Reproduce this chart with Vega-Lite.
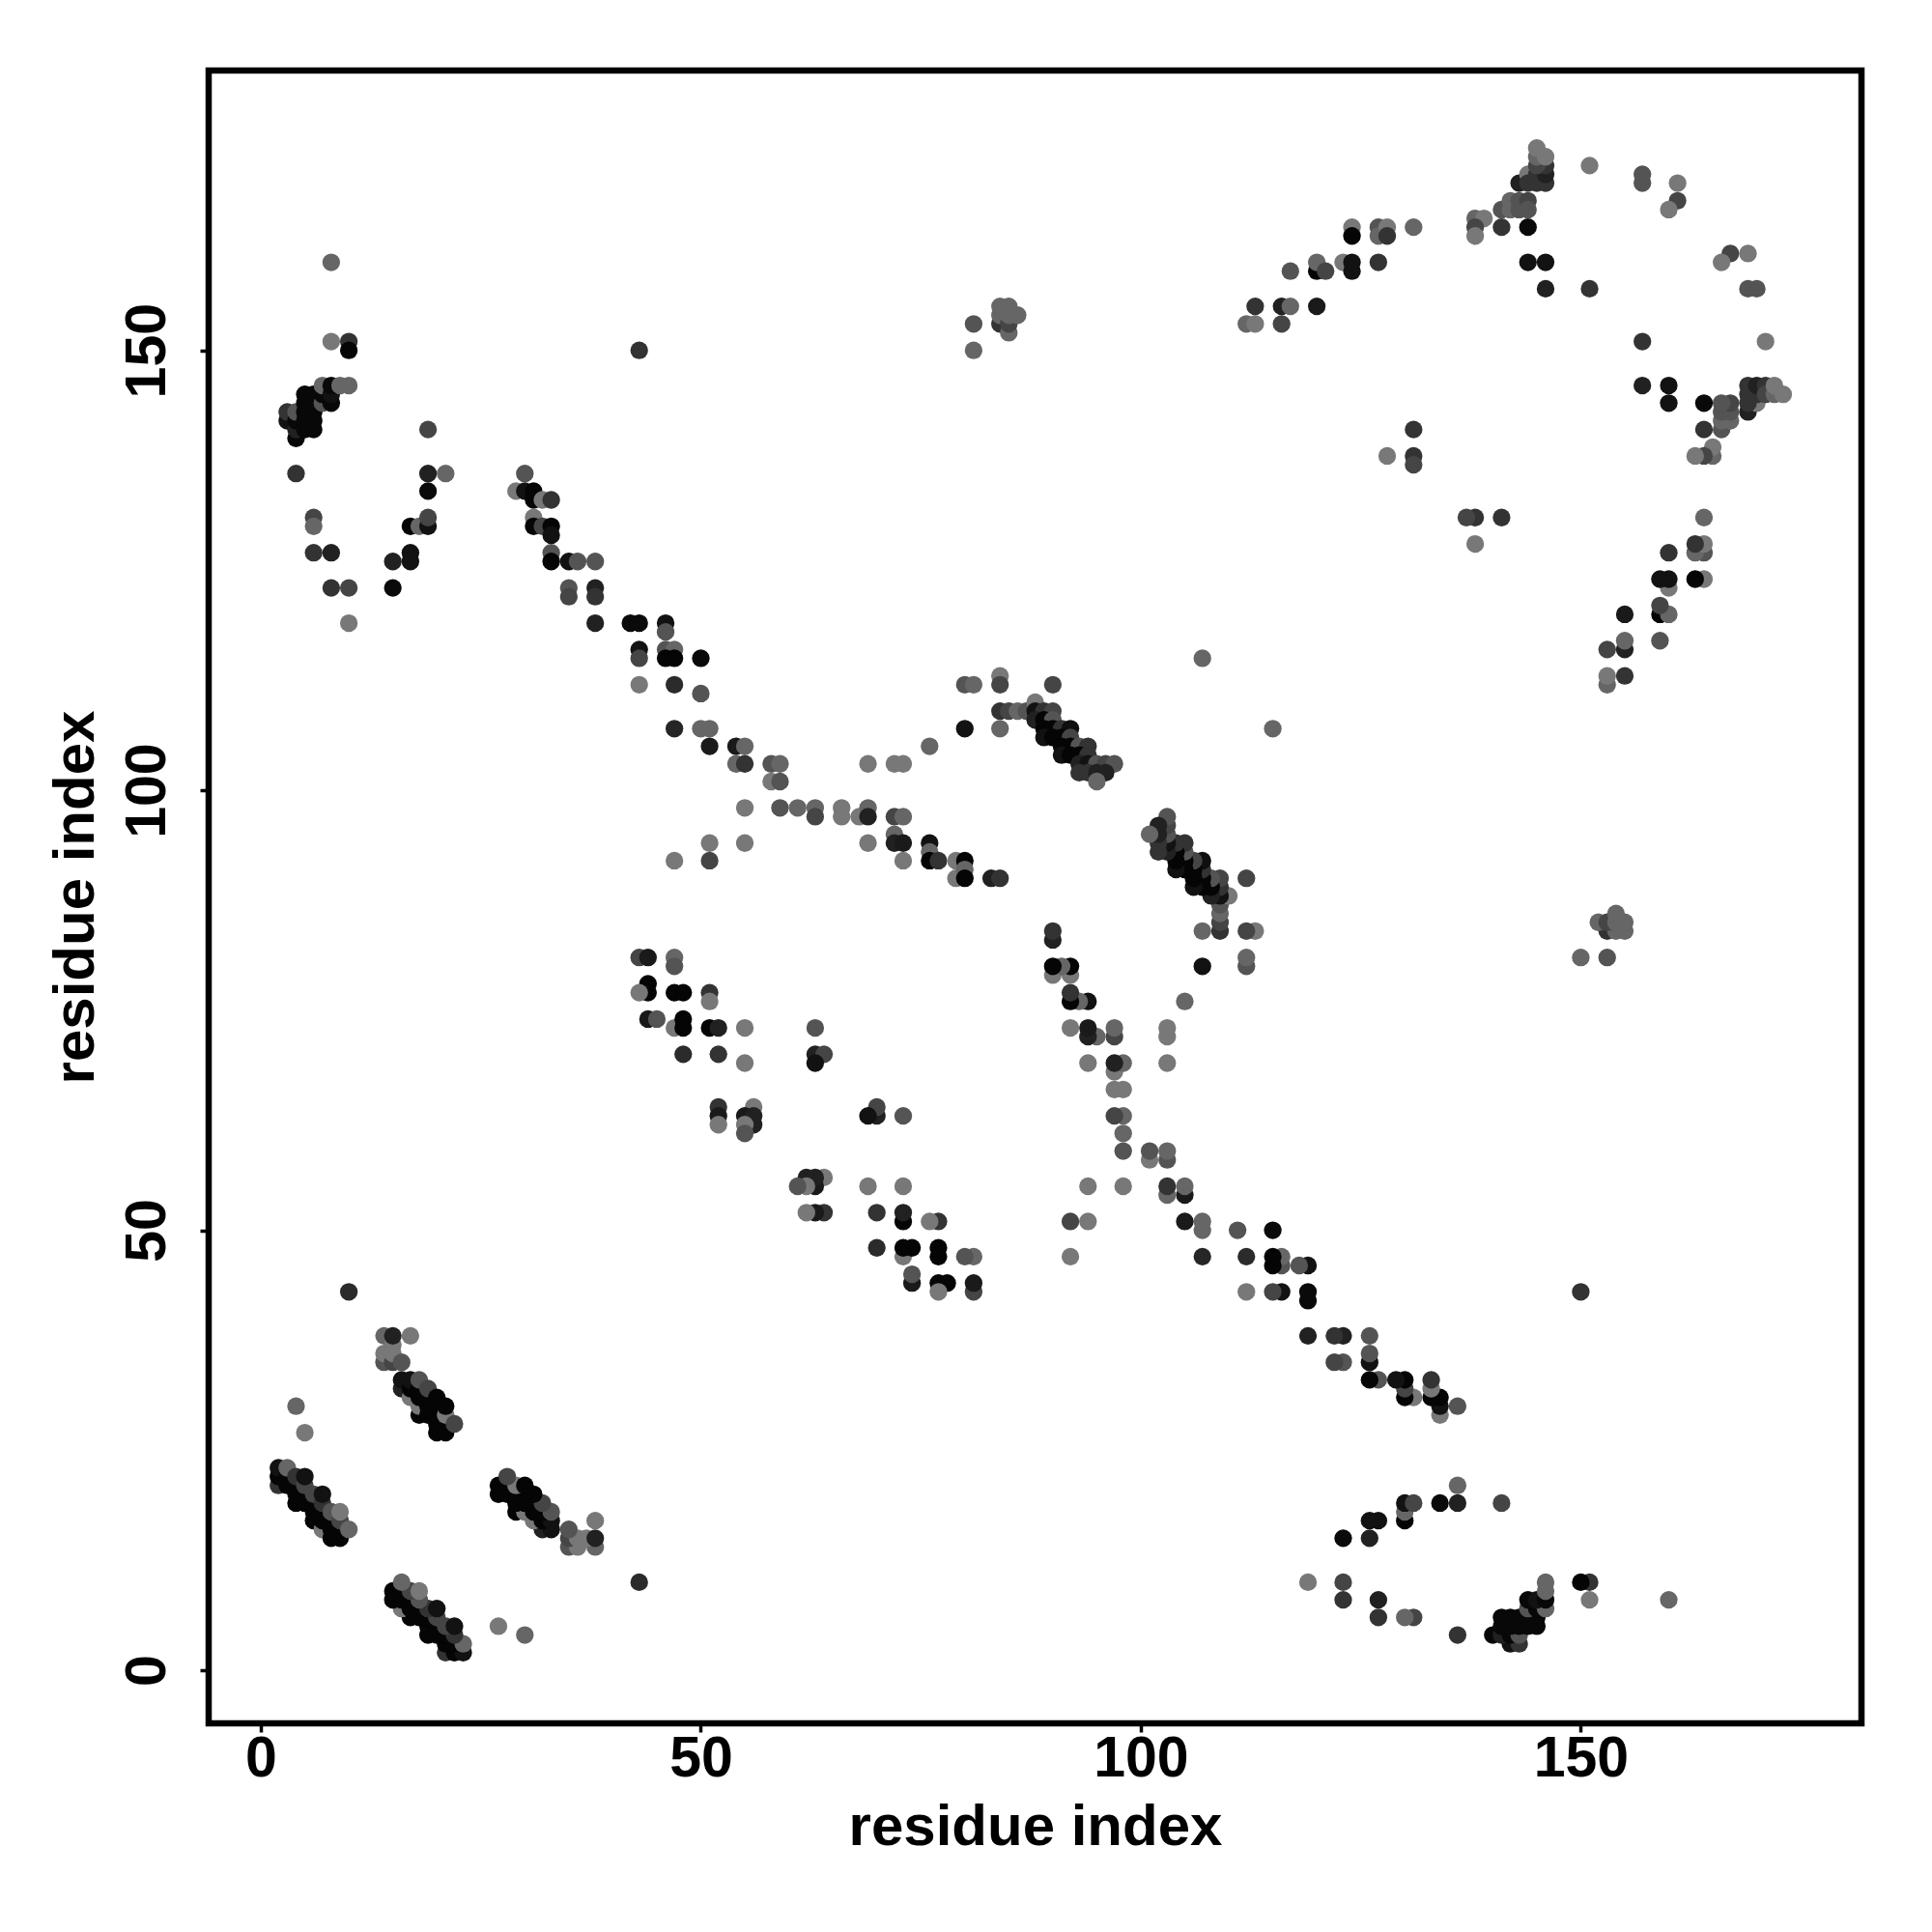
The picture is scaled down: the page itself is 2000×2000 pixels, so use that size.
{"$schema":"https://vega.github.io/schema/vega-lite/v6.json","width":1711,"height":1711,"autosize":"none","padding":{"left":216,"top":73,"right":73,"bottom":216},"background":"white","view":{"stroke":"#000000","strokeWidth":6.5,"fill":"white"},"config":{"font":"Liberation Sans"},
"data":{"values":[
{"i":69,"j":103,"s":0.47},{"j":69,"i":103,"s":0.47},
{"i":2,"j":21,"s":0.2},{"i":2,"j":22,"s":0.02},{"i":2,"j":23,"s":0.07},{"i":3,"j":21,"s":0.02},{"i":3,"j":22,"s":0.02},{"i":3,"j":23,"s":0.4},{"i":4,"j":19,"s":0.02},{"i":4,"j":20,"s":0.02},{"i":4,"j":21,"s":0.02},{"i":4,"j":22,"s":0.2},{"i":5,"j":19,"s":0.02},{"i":5,"j":20,"s":0.02},{"i":5,"j":21,"s":0.27},{"i":5,"j":22,"s":0.07},{"i":6,"j":17,"s":0.02},{"i":6,"j":18,"s":0.02},{"i":6,"j":19,"s":0.02},{"i":6,"j":20,"s":0.27},{"i":7,"j":16,"s":0.47},{"i":7,"j":17,"s":0.02},{"i":7,"j":18,"s":0.02},{"i":7,"j":19,"s":0.2},{"i":7,"j":20,"s":0.07},{"i":8,"j":15,"s":0.02},{"i":8,"j":16,"s":0.02},{"i":8,"j":17,"s":0.02},{"i":8,"j":18,"s":0.33},{"i":9,"j":15,"s":0.02},{"i":9,"j":16,"s":0.02},{"i":9,"j":17,"s":0.27},{"i":9,"j":18,"s":0.47},{"i":10,"j":16,"s":0.4},
{"i":14,"j":35,"s":0.33},{"i":14,"j":36,"s":0.47},{"i":14,"j":38,"s":0.4},{"i":15,"j":35,"s":0.27},{"i":15,"j":36,"s":0.47},{"i":15,"j":37,"s":0.47},{"i":15,"j":38,"s":0.13},{"i":16,"j":35,"s":0.33},{"i":17,"j":38,"s":0.47},
{"i":16,"j":32,"s":0.13},{"i":16,"j":33,"s":0.07},{"i":17,"j":31,"s":0.47},{"i":17,"j":32,"s":0.02},{"i":17,"j":33,"s":0.07},{"i":18,"j":29,"s":0.02},{"i":18,"j":30,"s":0.47},{"i":18,"j":31,"s":0.02},{"i":18,"j":32,"s":0.02},{"i":18,"j":33,"s":0.33},{"i":19,"j":29,"s":0.02},{"i":19,"j":30,"s":0.02},{"i":19,"j":31,"s":0.02},{"i":19,"j":32,"s":0.27},{"i":20,"j":27,"s":0.02},{"i":20,"j":28,"s":0.02},{"i":20,"j":29,"s":0.02},{"i":20,"j":30,"s":0.02},{"i":20,"j":31,"s":0.02},{"i":21,"j":27,"s":0.02},{"i":21,"j":28,"s":0.02},{"i":21,"j":29,"s":0.47},{"i":21,"j":30,"s":0.02},{"i":22,"j":28,"s":0.27},
{"i":4,"j":30,"s":0.4},{"i":5,"j":27,"s":0.47},{"i":10,"j":43,"s":0.17},
{"i":3,"j":142,"s":0.07},{"i":3,"j":143,"s":0.2},{"i":4,"j":140,"s":0.03},{"i":4,"j":141,"s":0.13},{"i":4,"j":142,"s":0.03},{"i":4,"j":143,"s":0.33},{"i":5,"j":141,"s":0.03},{"i":5,"j":142,"s":0.03},{"i":5,"j":143,"s":0.03},{"i":5,"j":144,"s":0.03},{"i":5,"j":145,"s":0.03},{"i":6,"j":141,"s":0.03},{"i":6,"j":142,"s":0.03},{"i":6,"j":143,"s":0.03},{"i":6,"j":144,"s":0.03},{"i":6,"j":145,"s":0.03},{"i":7,"j":144,"s":0.33},{"i":7,"j":145,"s":0.03},{"i":7,"j":146,"s":0.4},{"i":8,"j":144,"s":0.03},{"i":8,"j":145,"s":0.07},{"i":8,"j":146,"s":0.03},{"i":9,"j":146,"s":0.4},{"i":10,"j":146,"s":0.4},
{"i":8,"j":160,"s":0.4},{"i":8,"j":151,"s":0.47},{"i":10,"j":151,"s":0.2},{"i":10,"j":150,"s":0.02},{"i":4,"j":136,"s":0.2},{"i":6,"j":131,"s":0.27},{"i":6,"j":130,"s":0.4},{"i":6,"j":127,"s":0.2},{"i":8,"j":127,"s":0.13},{"i":8,"j":123,"s":0.2},{"i":10,"j":123,"s":0.27},{"i":10,"j":119,"s":0.47},{"i":43,"j":150,"s":0.2},
{"i":19,"j":141,"s":0.27},{"i":19,"j":136,"s":0.13},{"i":21,"j":136,"s":0.4},{"i":19,"j":134,"s":0.04},{"i":17,"j":130,"s":0.02},{"i":18,"j":130,"s":0.4},{"i":19,"j":130,"s":0.07},{"i":19,"j":131,"s":0.27},{"i":17,"j":127,"s":0.07},{"i":17,"j":126,"s":0.07},{"i":15,"j":126,"s":0.13},{"i":15,"j":123,"s":0.04},
{"i":30,"j":136,"s":0.33},{"i":29,"j":134,"s":0.47},{"i":30,"j":134,"s":0.07},{"i":31,"j":134,"s":0.02},{"i":31,"j":133,"s":0.02},{"i":32,"j":133,"s":0.47},{"i":33,"j":133,"s":0.2},{"i":31,"j":131,"s":0.47},{"i":31,"j":130,"s":0.02},{"i":32,"j":130,"s":0.27},{"i":33,"j":130,"s":0.02},{"i":33,"j":129,"s":0.07},{"i":33,"j":127,"s":0.33},{"i":33,"j":126,"s":0.02},{"i":35,"j":126,"s":0.07},{"i":36,"j":126,"s":0.33},{"i":38,"j":126,"s":0.33},{"i":35,"j":123,"s":0.33},{"i":35,"j":122,"s":0.27},{"i":38,"j":123,"s":0.13},{"i":38,"j":122,"s":0.2},{"i":38,"j":119,"s":0.13},{"i":42,"j":119,"s":0.04},{"i":43,"j":119,"s":0.04},{"i":46,"j":119,"s":0.07},{"i":46,"j":118,"s":0.33},{"i":43,"j":116,"s":0.07},{"i":43,"j":115,"s":0.27},{"i":46,"j":116,"s":0.33},{"i":47,"j":116,"s":0.4},{"i":46,"j":115,"s":0.02},{"i":47,"j":115,"s":0.02},{"i":50,"j":115,"s":0.04},{"i":43,"j":112,"s":0.47},{"i":47,"j":112,"s":0.17},{"i":50,"j":111,"s":0.33},{"i":47,"j":107,"s":0.15},{"i":50,"j":107,"s":0.4},{"i":51,"j":107,"s":0.4},{"i":51,"j":105,"s":0.1},{"i":54,"j":105,"s":0.1},{"i":55,"j":105,"s":0.4},{"i":54,"j":103,"s":0.4},{"i":55,"j":103,"s":0.2},{"i":58,"j":103,"s":0.33},{"i":59,"j":103,"s":0.4},{"i":58,"j":101,"s":0.47},{"i":59,"j":101,"s":0.33},{"i":55,"j":98,"s":0.47},{"i":59,"j":98,"s":0.33},{"i":61,"j":98,"s":0.4},{"i":63,"j":98,"s":0.4},{"i":63,"j":97,"s":0.27},{"i":66,"j":98,"s":0.47},{"i":66,"j":97,"s":0.47},{"i":68,"j":97,"s":0.47},{"i":69,"j":98,"s":0.4},{"i":69,"j":97,"s":0.13},{"i":72,"j":97,"s":0.27},{"i":73,"j":97,"s":0.4},{"i":72,"j":95,"s":0.4},{"i":72,"j":94,"s":0.13},{"i":73,"j":94,"s":0.1},{"i":76,"j":94,"s":0.07},{"i":76,"j":93,"s":0.4},{"i":76,"j":92,"s":0.02},{"i":77,"j":92,"s":0.2},{"i":79,"j":92,"s":0.47},{"i":80,"j":92,"s":0.02},{"i":79,"j":90,"s":0.47},{"i":80,"j":91,"s":0.4},{"i":80,"j":90,"s":0.02},{"i":51,"j":94,"s":0.47},{"i":51,"j":92,"s":0.27},{"i":47,"j":92,"s":0.47},{"i":55,"j":94,"s":0.47},{"i":69,"j":94,"s":0.47},{"i":73,"j":92,"s":0.47},{"i":83,"j":90,"s":0.13},{"i":84,"j":90,"s":0.2},
{"i":76,"j":105,"s":0.4},{"i":72,"j":103,"s":0.47},{"i":73,"j":103,"s":0.47},{"i":80,"j":107,"s":0.07},{"i":80,"j":112,"s":0.33},{"i":81,"j":112,"s":0.4},{"i":84,"j":113,"s":0.47},{"i":84,"j":112,"s":0.27},{"i":90,"j":112,"s":0.27},{"i":84,"j":109,"s":0.2},{"i":85,"j":109,"s":0.27},{"i":86,"j":109,"s":0.4},{"i":87,"j":109,"s":0.33},{"i":88,"j":110,"s":0.47},{"i":84,"j":107,"s":0.4},{"i":107,"j":115,"s":0.4},
{"i":88,"j":109,"s":0.07},{"i":89,"j":109,"s":0.2},{"i":90,"j":109,"s":0.27},{"i":88,"j":108,"s":0.13},{"i":89,"j":108,"s":0.02},{"i":90,"j":108,"s":0.33},{"i":89,"j":107,"s":0.02},{"i":90,"j":107,"s":0.02},{"i":91,"j":107,"s":0.2},{"i":92,"j":107,"s":0.06},{"i":89,"j":106,"s":0.07},{"i":90,"j":106,"s":0.02},{"i":91,"j":106,"s":0.02},{"i":92,"j":106,"s":0.27},{"i":91,"j":105,"s":0.02},{"i":92,"j":105,"s":0.02},{"i":93,"j":105,"s":0.33},{"i":94,"j":105,"s":0.2},{"i":91,"j":104,"s":0.07},{"i":92,"j":104,"s":0.02},{"i":93,"j":104,"s":0.02},{"i":94,"j":104,"s":0.2},{"i":93,"j":103,"s":0.13},{"i":94,"j":103,"s":0.07},{"i":95,"j":103,"s":0.33},{"i":96,"j":103,"s":0.27},{"i":97,"j":103,"s":0.33},{"i":93,"j":102,"s":0.2},{"i":94,"j":102,"s":0.2},{"i":95,"j":102,"s":0.13},{"i":96,"j":102,"s":0.13},{"i":95,"j":101,"s":0.4},
{"i":43,"j":81,"s":0.27},{"i":44,"j":81,"s":0.1},{"i":47,"j":81,"s":0.4},{"i":47,"j":80,"s":0.33},{"i":44,"j":78,"s":0.02},{"i":44,"j":77,"s":0.02},{"i":43,"j":77,"s":0.47},{"i":47,"j":77,"s":0.02},{"i":48,"j":77,"s":0.02},{"i":51,"j":77,"s":0.2},{"i":51,"j":76,"s":0.47},{"i":44,"j":74,"s":0.1},{"i":45,"j":74,"s":0.33},{"i":47,"j":73,"s":0.47},{"i":48,"j":74,"s":0.02},{"i":48,"j":73,"s":0.02},{"i":51,"j":73,"s":0.02},{"i":52,"j":73,"s":0.13},{"i":55,"j":73,"s":0.47},{"i":63,"j":73,"s":0.33},{"i":48,"j":70,"s":0.17},{"i":52,"j":70,"s":0.2},{"i":63,"j":70,"s":0.13},{"i":64,"j":70,"s":0.27},{"i":55,"j":69,"s":0.47},{"i":63,"j":69,"s":0.07},{"i":52,"j":64,"s":0.2},{"i":52,"j":63,"s":0.1},{"i":52,"j":62,"s":0.47},{"i":56,"j":64,"s":0.47},{"i":55,"j":63,"s":0.1},{"i":56,"j":63,"s":0.13},{"i":56,"j":62,"s":0.13},{"i":55,"j":62,"s":0.47},{"i":55,"j":61,"s":0.33},
{"i":112,"j":153,"s":0.4},{"i":113,"j":153,"s":0.47},{"i":116,"j":153,"s":0.27},{"i":113,"j":155,"s":0.2},{"i":116,"j":155,"s":0.13},{"i":117,"j":155,"s":0.4},{"i":120,"j":155,"s":0.1},{"i":117,"j":159,"s":0.33},{"i":120,"j":159,"s":0.02},{"i":120,"j":160,"s":0.4},{"i":121,"j":159,"s":0.27},{"i":123,"j":160,"s":0.47},{"i":124,"j":160,"s":0.07},{"i":124,"j":159,"s":0.07},{"i":127,"j":160,"s":0.2},{"i":124,"j":164,"s":0.47},{"i":124,"j":163,"s":0.02},{"i":127,"j":164,"s":0.33},{"i":127,"j":163,"s":0.4},{"i":128,"j":164,"s":0.47},{"i":128,"j":163,"s":0.2},{"i":131,"j":164,"s":0.4},{"i":138,"j":165,"s":0.4},{"i":139,"j":165,"s":0.47},{"i":138,"j":164,"s":0.27},{"i":138,"j":163,"s":0.47},{"i":141,"j":166,"s":0.33},{"i":141,"j":164,"s":0.2},{"i":142,"j":167,"s":0.4},{"i":142,"j":166,"s":0.4},{"i":143,"j":167,"s":0.33},{"i":143,"j":166,"s":0.33},{"i":144,"j":167,"s":0.27},{"i":144,"j":166,"s":0.33},{"i":144,"j":164,"s":0.04},{"i":144,"j":160,"s":0.07},{"i":146,"j":160,"s":0.07},{"i":146,"j":157,"s":0.13},{"i":151,"j":157,"s":0.2},{"i":143,"j":169,"s":0.13},{"i":144,"j":170,"s":0.47},{"i":144,"j":169,"s":0.2},{"i":145,"j":169,"s":0.2},{"i":146,"j":169,"s":0.2},{"i":145,"j":170,"s":0.2},{"i":146,"j":170,"s":0.13},{"i":146,"j":171,"s":0.2},{"i":145,"j":171,"s":0.27},{"i":145,"j":172,"s":0.4},{"i":146,"j":172,"s":0.47},{"i":145,"j":173,"s":0.47},{"i":151,"j":171,"s":0.47},{"i":157,"j":170,"s":0.33},{"i":157,"j":169,"s":0.33},{"i":161,"j":169,"s":0.47},{"i":161,"j":167,"s":0.27},{"i":160,"j":166,"s":0.47},
{"i":131,"j":141,"s":0.2},{"i":131,"j":138,"s":0.2},{"i":131,"j":137,"s":0.27},{"i":128,"j":138,"s":0.47},
{"i":81,"j":150,"s":0.4},{"i":81,"j":153,"s":0.33},{"i":84,"j":153,"s":0.2},{"i":84,"j":154,"s":0.4},{"i":84,"j":155,"s":0.4},{"i":85,"j":152,"s":0.4},{"i":85,"j":153,"s":0.27},{"i":85,"j":154,"s":0.4},{"i":85,"j":155,"s":0.4},{"i":86,"j":154,"s":0.4},
{"j":2,"i":21,"s":0.2},{"j":2,"i":22,"s":0.02},{"j":2,"i":23,"s":0.07},{"j":3,"i":21,"s":0.02},{"j":3,"i":22,"s":0.02},{"j":3,"i":23,"s":0.4},{"j":4,"i":19,"s":0.02},{"j":4,"i":20,"s":0.02},{"j":4,"i":21,"s":0.02},{"j":4,"i":22,"s":0.2},{"j":5,"i":19,"s":0.02},{"j":5,"i":20,"s":0.02},{"j":5,"i":21,"s":0.27},{"j":5,"i":22,"s":0.07},{"j":6,"i":17,"s":0.02},{"j":6,"i":18,"s":0.02},{"j":6,"i":19,"s":0.02},{"j":6,"i":20,"s":0.27},{"j":7,"i":16,"s":0.47},{"j":7,"i":17,"s":0.02},{"j":7,"i":18,"s":0.02},{"j":7,"i":19,"s":0.2},{"j":7,"i":20,"s":0.07},{"j":8,"i":15,"s":0.02},{"j":8,"i":16,"s":0.02},{"j":8,"i":17,"s":0.02},{"j":8,"i":18,"s":0.33},{"j":9,"i":15,"s":0.02},{"j":9,"i":16,"s":0.02},{"j":9,"i":17,"s":0.27},{"j":9,"i":18,"s":0.47},{"j":10,"i":16,"s":0.4},
{"j":14,"i":35,"s":0.33},{"j":14,"i":36,"s":0.47},{"j":14,"i":38,"s":0.4},{"j":15,"i":35,"s":0.27},{"j":15,"i":36,"s":0.47},{"j":15,"i":37,"s":0.47},{"j":15,"i":38,"s":0.13},{"j":16,"i":35,"s":0.33},{"j":17,"i":38,"s":0.47},
{"j":16,"i":32,"s":0.13},{"j":16,"i":33,"s":0.07},{"j":17,"i":31,"s":0.47},{"j":17,"i":32,"s":0.02},{"j":17,"i":33,"s":0.07},{"j":18,"i":29,"s":0.02},{"j":18,"i":30,"s":0.47},{"j":18,"i":31,"s":0.02},{"j":18,"i":32,"s":0.02},{"j":18,"i":33,"s":0.33},{"j":19,"i":29,"s":0.02},{"j":19,"i":30,"s":0.02},{"j":19,"i":31,"s":0.02},{"j":19,"i":32,"s":0.27},{"j":20,"i":27,"s":0.02},{"j":20,"i":28,"s":0.02},{"j":20,"i":29,"s":0.02},{"j":20,"i":30,"s":0.02},{"j":20,"i":31,"s":0.02},{"j":21,"i":27,"s":0.02},{"j":21,"i":28,"s":0.02},{"j":21,"i":29,"s":0.47},{"j":21,"i":30,"s":0.02},{"j":22,"i":28,"s":0.27},
{"j":4,"i":30,"s":0.4},{"j":5,"i":27,"s":0.47},{"j":10,"i":43,"s":0.17},
{"j":3,"i":142,"s":0.07},{"j":3,"i":143,"s":0.2},{"j":4,"i":140,"s":0.03},{"j":4,"i":141,"s":0.13},{"j":4,"i":142,"s":0.03},{"j":4,"i":143,"s":0.33},{"j":5,"i":141,"s":0.03},{"j":5,"i":142,"s":0.03},{"j":5,"i":143,"s":0.03},{"j":5,"i":144,"s":0.03},{"j":5,"i":145,"s":0.03},{"j":6,"i":141,"s":0.03},{"j":6,"i":142,"s":0.03},{"j":6,"i":143,"s":0.03},{"j":6,"i":144,"s":0.03},{"j":6,"i":145,"s":0.03},{"j":7,"i":144,"s":0.33},{"j":7,"i":145,"s":0.03},{"j":7,"i":146,"s":0.4},{"j":8,"i":144,"s":0.03},{"j":8,"i":145,"s":0.07},{"j":8,"i":146,"s":0.03},{"j":9,"i":146,"s":0.4},{"j":10,"i":146,"s":0.4},
{"j":8,"i":160,"s":0.4},{"j":8,"i":151,"s":0.47},{"j":10,"i":151,"s":0.2},{"j":10,"i":150,"s":0.02},{"j":4,"i":136,"s":0.2},{"j":6,"i":131,"s":0.27},{"j":6,"i":130,"s":0.4},{"j":6,"i":127,"s":0.2},{"j":8,"i":127,"s":0.13},{"j":8,"i":123,"s":0.2},{"j":10,"i":123,"s":0.27},{"j":10,"i":119,"s":0.47},{"j":43,"i":150,"s":0.2},
{"j":19,"i":141,"s":0.27},{"j":19,"i":136,"s":0.13},{"j":21,"i":136,"s":0.4},{"j":19,"i":134,"s":0.04},{"j":17,"i":130,"s":0.02},{"j":18,"i":130,"s":0.4},{"j":19,"i":130,"s":0.07},{"j":19,"i":131,"s":0.27},{"j":17,"i":127,"s":0.07},{"j":17,"i":126,"s":0.07},{"j":15,"i":126,"s":0.13},{"j":15,"i":123,"s":0.04},
{"j":30,"i":136,"s":0.33},{"j":29,"i":134,"s":0.47},{"j":30,"i":134,"s":0.07},{"j":31,"i":134,"s":0.02},{"j":31,"i":133,"s":0.02},{"j":32,"i":133,"s":0.47},{"j":33,"i":133,"s":0.2},{"j":31,"i":131,"s":0.47},{"j":31,"i":130,"s":0.02},{"j":32,"i":130,"s":0.27},{"j":33,"i":130,"s":0.02},{"j":33,"i":129,"s":0.07},{"j":33,"i":127,"s":0.33},{"j":33,"i":126,"s":0.02},{"j":35,"i":126,"s":0.07},{"j":36,"i":126,"s":0.33},{"j":38,"i":126,"s":0.33},{"j":35,"i":123,"s":0.33},{"j":35,"i":122,"s":0.27},{"j":38,"i":123,"s":0.13},{"j":38,"i":122,"s":0.2},{"j":38,"i":119,"s":0.13},{"j":42,"i":119,"s":0.04},{"j":43,"i":119,"s":0.04},{"j":46,"i":119,"s":0.07},{"j":46,"i":118,"s":0.33},{"j":43,"i":116,"s":0.07},{"j":43,"i":115,"s":0.27},{"j":46,"i":116,"s":0.33},{"j":47,"i":116,"s":0.4},{"j":46,"i":115,"s":0.02},{"j":47,"i":115,"s":0.02},{"j":50,"i":115,"s":0.04},{"j":43,"i":112,"s":0.47},{"j":47,"i":112,"s":0.17},{"j":50,"i":111,"s":0.33},{"j":47,"i":107,"s":0.15},{"j":50,"i":107,"s":0.4},{"j":51,"i":107,"s":0.4},{"j":51,"i":105,"s":0.1},{"j":54,"i":105,"s":0.1},{"j":55,"i":105,"s":0.4},{"j":54,"i":103,"s":0.4},{"j":55,"i":103,"s":0.2},{"j":58,"i":103,"s":0.33},{"j":59,"i":103,"s":0.4},{"j":58,"i":101,"s":0.47},{"j":59,"i":101,"s":0.33},{"j":55,"i":98,"s":0.47},{"j":59,"i":98,"s":0.33},{"j":61,"i":98,"s":0.4},{"j":63,"i":98,"s":0.4},{"j":63,"i":97,"s":0.27},{"j":66,"i":98,"s":0.47},{"j":66,"i":97,"s":0.47},{"j":68,"i":97,"s":0.47},{"j":69,"i":98,"s":0.4},{"j":69,"i":97,"s":0.13},{"j":72,"i":97,"s":0.27},{"j":73,"i":97,"s":0.4},{"j":72,"i":95,"s":0.4},{"j":72,"i":94,"s":0.13},{"j":73,"i":94,"s":0.1},{"j":76,"i":94,"s":0.07},{"j":76,"i":93,"s":0.4},{"j":76,"i":92,"s":0.02},{"j":77,"i":92,"s":0.2},{"j":79,"i":92,"s":0.47},{"j":80,"i":92,"s":0.02},{"j":79,"i":90,"s":0.47},{"j":80,"i":91,"s":0.4},{"j":80,"i":90,"s":0.02},{"j":51,"i":94,"s":0.47},{"j":51,"i":92,"s":0.27},{"j":47,"i":92,"s":0.47},{"j":55,"i":94,"s":0.47},{"j":69,"i":94,"s":0.47},{"j":73,"i":92,"s":0.47},{"j":83,"i":90,"s":0.13},{"j":84,"i":90,"s":0.2},
{"j":76,"i":105,"s":0.4},{"j":72,"i":103,"s":0.47},{"j":73,"i":103,"s":0.47},{"j":80,"i":107,"s":0.07},{"j":80,"i":112,"s":0.33},{"j":81,"i":112,"s":0.4},{"j":84,"i":113,"s":0.47},{"j":84,"i":112,"s":0.27},{"j":90,"i":112,"s":0.27},{"j":84,"i":109,"s":0.2},{"j":85,"i":109,"s":0.27},{"j":86,"i":109,"s":0.4},{"j":87,"i":109,"s":0.33},{"j":88,"i":110,"s":0.47},{"j":84,"i":107,"s":0.4},{"j":107,"i":115,"s":0.4},
{"j":88,"i":109,"s":0.07},{"j":89,"i":109,"s":0.2},{"j":90,"i":109,"s":0.27},{"j":88,"i":108,"s":0.13},{"j":89,"i":108,"s":0.02},{"j":90,"i":108,"s":0.33},{"j":89,"i":107,"s":0.02},{"j":90,"i":107,"s":0.02},{"j":91,"i":107,"s":0.2},{"j":92,"i":107,"s":0.06},{"j":89,"i":106,"s":0.07},{"j":90,"i":106,"s":0.02},{"j":91,"i":106,"s":0.02},{"j":92,"i":106,"s":0.27},{"j":91,"i":105,"s":0.02},{"j":92,"i":105,"s":0.02},{"j":93,"i":105,"s":0.33},{"j":94,"i":105,"s":0.2},{"j":91,"i":104,"s":0.07},{"j":92,"i":104,"s":0.02},{"j":93,"i":104,"s":0.02},{"j":94,"i":104,"s":0.2},{"j":93,"i":103,"s":0.13},{"j":94,"i":103,"s":0.07},{"j":95,"i":103,"s":0.33},{"j":96,"i":103,"s":0.27},{"j":97,"i":103,"s":0.33},{"j":93,"i":102,"s":0.2},{"j":94,"i":102,"s":0.2},{"j":95,"i":102,"s":0.13},{"j":96,"i":102,"s":0.13},{"j":95,"i":101,"s":0.4},
{"j":43,"i":81,"s":0.27},{"j":44,"i":81,"s":0.1},{"j":47,"i":81,"s":0.4},{"j":47,"i":80,"s":0.33},{"j":44,"i":78,"s":0.02},{"j":44,"i":77,"s":0.02},{"j":43,"i":77,"s":0.47},{"j":47,"i":77,"s":0.02},{"j":48,"i":77,"s":0.02},{"j":51,"i":77,"s":0.2},{"j":51,"i":76,"s":0.47},{"j":44,"i":74,"s":0.1},{"j":45,"i":74,"s":0.33},{"j":47,"i":73,"s":0.47},{"j":48,"i":74,"s":0.02},{"j":48,"i":73,"s":0.02},{"j":51,"i":73,"s":0.02},{"j":52,"i":73,"s":0.13},{"j":55,"i":73,"s":0.47},{"j":63,"i":73,"s":0.33},{"j":48,"i":70,"s":0.17},{"j":52,"i":70,"s":0.2},{"j":63,"i":70,"s":0.13},{"j":64,"i":70,"s":0.27},{"j":55,"i":69,"s":0.47},{"j":63,"i":69,"s":0.07},{"j":52,"i":64,"s":0.2},{"j":52,"i":63,"s":0.1},{"j":52,"i":62,"s":0.47},{"j":56,"i":64,"s":0.47},{"j":55,"i":63,"s":0.1},{"j":56,"i":63,"s":0.13},{"j":56,"i":62,"s":0.13},{"j":55,"i":62,"s":0.47},{"j":55,"i":61,"s":0.33},
{"j":112,"i":153,"s":0.4},{"j":113,"i":153,"s":0.47},{"j":116,"i":153,"s":0.27},{"j":113,"i":155,"s":0.2},{"j":116,"i":155,"s":0.13},{"j":117,"i":155,"s":0.4},{"j":120,"i":155,"s":0.1},{"j":117,"i":159,"s":0.33},{"j":120,"i":159,"s":0.02},{"j":120,"i":160,"s":0.4},{"j":121,"i":159,"s":0.27},{"j":123,"i":160,"s":0.47},{"j":124,"i":160,"s":0.07},{"j":124,"i":159,"s":0.07},{"j":127,"i":160,"s":0.2},{"j":124,"i":164,"s":0.47},{"j":124,"i":163,"s":0.02},{"j":127,"i":164,"s":0.33},{"j":127,"i":163,"s":0.4},{"j":128,"i":164,"s":0.47},{"j":128,"i":163,"s":0.2},{"j":131,"i":164,"s":0.4},{"j":138,"i":165,"s":0.4},{"j":139,"i":165,"s":0.47},{"j":138,"i":164,"s":0.27},{"j":138,"i":163,"s":0.47},{"j":141,"i":166,"s":0.33},{"j":141,"i":164,"s":0.2},{"j":142,"i":167,"s":0.4},{"j":142,"i":166,"s":0.4},{"j":143,"i":167,"s":0.33},{"j":143,"i":166,"s":0.33},{"j":144,"i":167,"s":0.27},{"j":144,"i":166,"s":0.33},{"j":144,"i":164,"s":0.04},{"j":144,"i":160,"s":0.07},{"j":146,"i":160,"s":0.07},{"j":146,"i":157,"s":0.13},{"j":151,"i":157,"s":0.2},{"j":143,"i":169,"s":0.13},{"j":144,"i":170,"s":0.47},{"j":144,"i":169,"s":0.2},{"j":145,"i":169,"s":0.2},{"j":146,"i":169,"s":0.2},{"j":145,"i":170,"s":0.2},{"j":146,"i":170,"s":0.13},{"j":146,"i":171,"s":0.2},{"j":145,"i":171,"s":0.27},{"j":145,"i":172,"s":0.4},{"j":146,"i":172,"s":0.47},{"j":145,"i":173,"s":0.47},{"j":151,"i":171,"s":0.47},{"j":157,"i":170,"s":0.33},{"j":157,"i":169,"s":0.33},{"j":161,"i":169,"s":0.47},{"j":161,"i":167,"s":0.27},{"j":160,"i":166,"s":0.47},
{"j":131,"i":141,"s":0.2},{"j":131,"i":138,"s":0.2},{"j":131,"i":137,"s":0.27},{"j":128,"i":138,"s":0.47},
{"j":81,"i":150,"s":0.4},{"j":81,"i":153,"s":0.33},{"j":84,"i":153,"s":0.2},{"j":84,"i":154,"s":0.4},{"j":84,"i":155,"s":0.4},{"j":85,"i":152,"s":0.4},{"j":85,"i":153,"s":0.27},{"j":85,"i":154,"s":0.4},{"j":85,"i":155,"s":0.4},{"j":86,"i":154,"s":0.4}
]},
"mark":{"type":"point","filled":true,"opacity":1,"size":335,"strokeWidth":0,"clip":false},
"encoding":{
"x":{"field":"i","type":"quantitative","scale":{"domain":[-5.93,181.9],"nice":false,"zero":false},"axis":{"title":"residue index","values":[0,50,100,150],"grid":false,"domain":false,"tickColor":"#000000","tickWidth":3.5,"tickSize":9,"labelColor":"#000000","labelFont":"Liberation Sans","labelFontWeight":"bold","labelFontSize":59,"labelPadding":-2,"titleColor":"#000000","titleFont":"Liberation Sans","titleFontWeight":"bold","titleFontSize":60,"titlePadding":12,"labelFlush":false}},
"y":{"field":"j","type":"quantitative","scale":{"domain":[-6.04,181.8],"nice":false,"zero":false},"axis":{"title":"residue index","values":[0,50,100,150],"grid":false,"domain":false,"tickColor":"#000000","tickWidth":3.5,"tickSize":9,"labelColor":"#000000","labelFont":"Liberation Sans","labelFontWeight":"bold","labelFontSize":59,"labelAngle":270,"labelAlign":"center","labelBaseline":"bottom","labelPadding":25,"titleColor":"#000000","titleFont":"Liberation Sans","titleFontWeight":"bold","titleFontSize":60,"titlePadding":14,"labelFlush":false}},
"color":{"field":"s","type":"quantitative","scale":{"domain":[0,1],"range":["#000000","#ffffff"],"interpolate":"rgb"},"legend":null},
"order":[{"field":"i","type":"quantitative"},{"field":"j","type":"quantitative"}]
}}
